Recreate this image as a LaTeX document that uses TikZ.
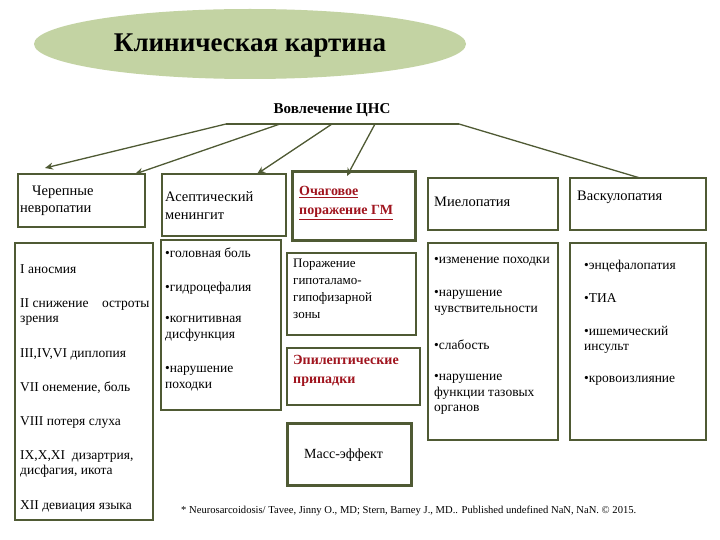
\documentclass[tikz,border=0pt]{standalone}
\usepackage{fontspec}
\setmainfont{Liberation Serif}
\usetikzlibrary{shapes.geometric,arrows.meta}
\definecolor{bord}{HTML}{4F5A34}
\definecolor{ell}{HTML}{C3D3A3}
\definecolor{red}{HTML}{A0141E}
\begin{document}
\begin{tikzpicture}[x=1pt,y=-1pt,
 box/.style={draw=bord,line width=2pt,fill=white},
 boxx/.style={draw=bord,line width=3pt,fill=white},
 txt/.style={font=\fontsize{13.5}{15.5}\selectfont,align=left,anchor=north west,inner sep=0pt},
 arr/.style={draw=bord,line width=1.3pt,-{Stealth[length=8pt,width=7pt]}}]
\useasboundingbox (0,0) rectangle (720,540);
\node[ellipse,fill=ell,minimum width=432,minimum height=70,inner sep=0] (ttl) at (250,44) {};
\node[font=\fontsize{27}{30}\selectfont\bfseries] at (250,46) {Клиническая картина};
\node[font=\fontsize{15}{17}\selectfont\bfseries] (cns) at (332,110) {Вовлечение ЦНС};
\coordinate (l1) at (226,124); \coordinate (l2) at (459,124);
\draw[bord,line width=1.3pt] (l1) -- (l2);
\coordinate (a2) at (280,124); \coordinate (a3) at (332,124); \coordinate (a4) at (375,124);
% boxes
\draw[box] (18,174) rectangle (145,227) coordinate (b1);
\draw[box] (15,243) rectangle (153,520);
\draw[box] (162,174) rectangle (286,236);
\draw[box] (161,240) rectangle (281,410);
\draw[boxx] (292,172) rectangle (415,240);
\draw[box] (287,253) rectangle (416,335);
\draw[box] (287,348) rectangle (420,405);
\draw[boxx] (287,423) rectangle (411,485);
\draw[box] (428,178) rectangle (558,230);
\draw[box] (428,243) rectangle (558,440);
\draw[box] (570,178) rectangle (706,230);
\draw[box] (570,243) rectangle (706,440);
\coordinate (t1) at (45,168); \coordinate (t2) at (135,174); \coordinate (t3) at (257,174);
\coordinate (t4) at (347,176); \coordinate (t5) at (468,178);
\draw[arr] (l1) -- (t1);
\draw[arr] (a2) -- (t2);
\draw[arr] (a3) -- (t3);
\draw[arr] (a4) -- (t4);
\draw[bord,line width=1.3pt] (l2) -- (640,178);
% texts
\node[txt,font=\fontsize{14.5}{18}\selectfont] (n1) at (32,186) {Черепные\\[-1pt]\hspace*{-12pt}невропатии};
\node[txt] at (20,264) {I аносмия};
\node[txt] at (20,298) {II снижение\quad остроты\\зрения};
\node[txt] at (20,348) {III,IV,VI диплопия};
\node[txt] at (20,382) {VII онемение, боль};
\node[txt] at (20,416) {VIII потеря слуха};
\node[txt] at (20,450) {IX,X,XI\ \ дизартрия,\\дисфагия, икота};
\node[txt] at (20,500) {XII девиация языка};
\node[txt,font=\fontsize{14.5}{18}\selectfont] at (165,191) {Асептический\\менингит};
\node[txt] at (165,248) {•головная боль};
\node[txt] at (165,282) {•гидроцефалия};
\node[txt] at (165,316) {•когнитивная\\дисфункция};
\node[txt] at (165,366) {•нарушение\\походки};
\node[txt,text=red,font=\fontsize{14}{19}\selectfont\bfseries] at (299,186) {\underline{Очаговое}\\\underline{поражение ГМ}};
\node[txt,font=\fontsize{13}{17}\selectfont] at (293,259) {Поражение\\гипоталамо-\\гипофизарной\\зоны};
\node[txt,text=red,font=\fontsize{14}{19}\selectfont\bfseries] at (293,355) {Эпилептические\\припадки};
\node[txt,font=\fontsize{14}{16}\selectfont] at (304,449) {Масс-эффект};
\node[txt,font=\fontsize{14.5}{18}\selectfont] at (434,197) {Миелопатия};
\node[txt] at (434,257) {•изменение походки};
\node[txt] at (434,290) {•нарушение\\чувствительности};
\node[txt] at (434,340) {•слабость};
\node[txt] at (434,374) {•нарушение\\функции тазовых\\органов};
\node[txt,font=\fontsize{14.5}{18}\selectfont] at (577,191) {Васкулопатия};
\node[txt] at (584,260) {•энцефалопатия};
\node[txt] at (584,293) {•ТИА};
\node[txt] at (584,326) {•ишемический\\инсульт};
\node[txt] at (584,376) {•кровоизлияние};
\node[anchor=west,inner sep=0pt,font=\fontsize{10.6}{12}\selectfont] at (181,511) {* Neurosarcoidosis/ Tavee, Jinny O., MD; Stern, Barney J., MD.. Published undefined NaN, NaN. © 2015.};
\end{tikzpicture}
\end{document}
